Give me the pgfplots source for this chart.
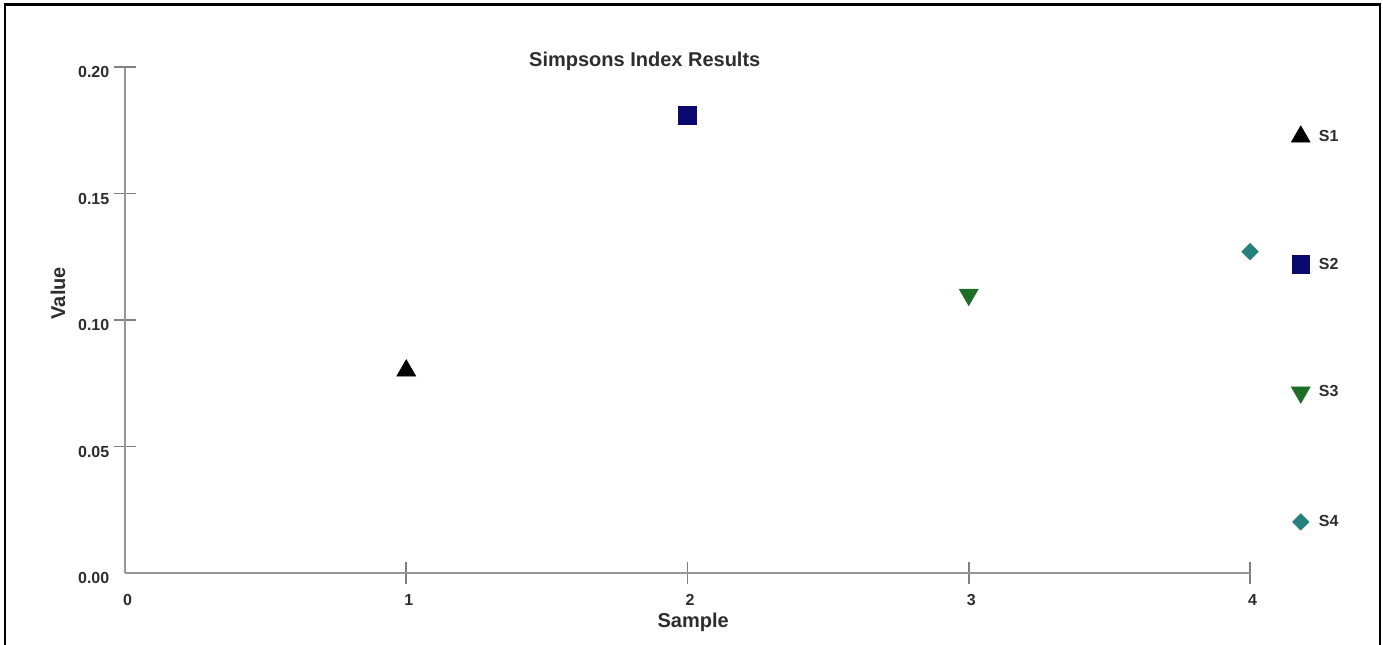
\documentclass[border=0pt]{standalone}
\usepackage{fontspec}
\setmainfont{Liberation Sans}
\usepackage{pgfplots}
\pgfplotsset{compat=1.18}
\definecolor{sOne}{RGB}{0,0,0}
\definecolor{sTwo}{RGB}{10,10,110}
\definecolor{sThree}{RGB}{30,110,40}
\definecolor{sFour}{RGB}{40,128,125}
\definecolor{axisgray}{RGB}{150,150,150}
\definecolor{labelgray}{RGB}{45,45,45}
\begin{document}
\begin{tikzpicture}
\useasboundingbox (0pt,0pt) rectangle (1037.25pt,483.75pt);
% outer frame
\draw[line width=1.9pt] (3.75pt,0pt) -- (3.75pt,480.4pt) -- (1035pt,480.4pt) -- (1035pt,0pt);
\begin{axis}[
  at={(93.75pt,54pt)}, anchor=south west,
  scale only axis, width=843.75pt, height=379.5pt,
  xmin=0, xmax=4, ymin=0, ymax=0.2,
  clip=false,
  axis x line=bottom, axis y line=left,
  axis line style={draw=axisgray, line width=1.8pt, -},
  xtick={1,2,3,4}, extra x ticks={0},
  ytick={0.05,0.10,0.15,0.20}, extra y ticks={0},
  extra x tick style={major tick length=0pt, xticklabel style={yshift=-8.25pt}},
  extra y tick style={major tick length=0pt, yticklabel style={xshift=-8.25pt}},
  tick style={draw=axisgray!85!black, line width=1.4pt},
  major tick length=16.5pt, tick align=center,
  /pgf/number format/assume math mode=true,
  yticklabel style={/pgf/number format/fixed, /pgf/number format/fixed zerofill, /pgf/number format/precision=2, yshift=-4pt},
  xticklabel style={xshift=2pt, yshift=-4.5pt},
  ticklabel style={font=\bfseries\fontsize{12}{14}\selectfont, text=labelgray},
  title={Simpsons Index Results},
  title style={font=\bfseries\fontsize{15}{18}\selectfont, text=labelgray, at={(axis description cs:0.462,0.996)}, anchor=center},
  xlabel={Sample},
  xlabel style={font=\bfseries\fontsize{15}{18}\selectfont, text=labelgray, at={(axis description cs:0.505,0)}, anchor=center, yshift=-37pt},
  ylabel={Value},
  ylabel style={font=\bfseries\fontsize{15}{18}\selectfont, text=labelgray, at={(axis description cs:-0.0596,0.553)}, anchor=center},
  legend image code/.code={\draw[#1] plot coordinates {(0pt,0pt)};},
  legend style={draw=none, fill=none, at={(axis description cs:1.0329,0.8896)}, anchor=north west,
    font=\bfseries\fontsize{12}{14}\selectfont, text=labelgray, row sep=82pt,
    /tikz/every odd column/.style={column sep=4.5pt}},
  legend cell align=left,
]
\addplot[only marks, mark=triangle*, mark size=8.2pt, mark options={draw=sOne, fill=sOne, line width=0.4pt}]
  coordinates {(1,0.080)};
\addlegendentry{S1}
\addplot[only marks, mark=square*, mark size=6.6pt, mark options={draw=sTwo, fill=sTwo, line width=0.4pt}]
  coordinates {(2,0.181)};
\addlegendentry{S2}
\addplot[only marks, mark=triangle*, mark size=8.2pt, mark options={draw=sThree, fill=sThree, line width=0.4pt, rotate=180}]
  coordinates {(3,0.110)};
\addlegendentry{S3}
\addplot[only marks, mark=square*, mark size=4.4pt, mark options={draw=sFour, fill=sFour, line width=0.4pt, rotate=45}]
  coordinates {(4,0.127)};
\addlegendentry{S4}
\end{axis}
\end{tikzpicture}
\end{document}
